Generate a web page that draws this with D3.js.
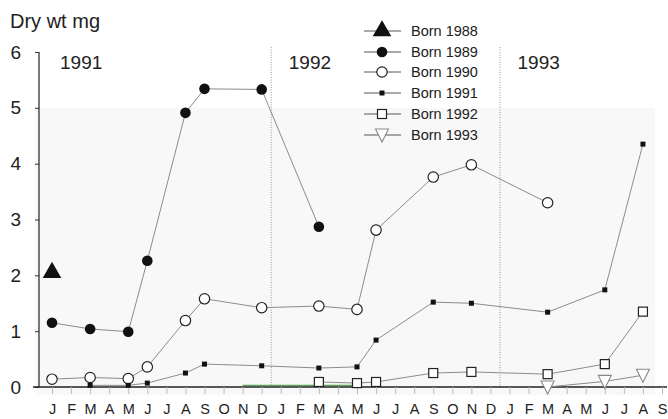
<!DOCTYPE html>
<html>
<head>
<meta charset="utf-8">
<script src="https://cdn.jsdelivr.net/npm/d3@7"></script>
<style>
  html, body { margin: 0; padding: 0; background: #fff; }
  svg { display: block; font-family: "Liberation Sans", Arial, Helvetica, sans-serif; }
</style>
</head>
<body>
<svg id="chart" width="668" height="419"></svg>
<script>
// Month keys along the x axis, Jan 1991 .. Sep 1993
const monthKeys = [];
for (let y = 1991; y <= 1993; y++) {
  for (let m = 1; m <= 12; m++) {
    if (y === 1993 && m > 9) break;
    monthKeys.push(y + "-" + String(m).padStart(2, "0"));
  }
}
const monthLetters = ["J","F","M","A","M","J","J","A","S","O","N","D"];
const yTicks = [0, 1, 2, 3, 4, 5, 6];
const yearLabels = [
  { key: "1991-01", text: "1991" },
  { key: "1992-01", text: "1992" },
  { key: "1993-01", text: "1993" }
];

// Mean dry weight (mg) by cohort and sampling month
const born1988 = [{ m: "1991-01", v: 2.05 }];
const born1989 = [
  { m: "1991-01", v: 1.15 }, { m: "1991-03", v: 1.04 }, { m: "1991-05", v: 0.99 },
  { m: "1991-06", v: 2.26 }, { m: "1991-08", v: 4.91 }, { m: "1991-09", v: 5.34 },
  { m: "1991-12", v: 5.33 }, { m: "1992-03", v: 2.87 }
];
const born1990 = [
  { m: "1991-01", v: 0.14 }, { m: "1991-03", v: 0.17 }, { m: "1991-05", v: 0.15 },
  { m: "1991-06", v: 0.36 }, { m: "1991-08", v: 1.19 }, { m: "1991-09", v: 1.58 },
  { m: "1991-12", v: 1.42 }, { m: "1992-03", v: 1.45 }, { m: "1992-05", v: 1.39 },
  { m: "1992-06", v: 2.81 }, { m: "1992-09", v: 3.76 }, { m: "1992-11", v: 3.98 },
  { m: "1993-03", v: 3.30 }
];
const born1991 = [
  { m: "1991-03", v: 0.03 }, { m: "1991-05", v: 0.03 }, { m: "1991-06", v: 0.07 },
  { m: "1991-08", v: 0.25 }, { m: "1991-09", v: 0.41 }, { m: "1991-12", v: 0.38 },
  { m: "1992-03", v: 0.34 }, { m: "1992-05", v: 0.36 }, { m: "1992-06", v: 0.84 },
  { m: "1992-09", v: 1.52 }, { m: "1992-11", v: 1.50 }, { m: "1993-03", v: 1.34 },
  { m: "1993-06", v: 1.74 }, { m: "1993-08", v: 4.35 }
];
const born1992 = [
  { m: "1992-03", v: 0.09 }, { m: "1992-05", v: 0.07 }, { m: "1992-06", v: 0.09 },
  { m: "1992-09", v: 0.25 }, { m: "1992-11", v: 0.27 }, { m: "1993-03", v: 0.23 },
  { m: "1993-06", v: 0.41 }, { m: "1993-08", v: 1.35 }
];
const born1993 = [
  { m: "1993-03", v: 0.00 }, { m: "1993-06", v: 0.10 }, { m: "1993-08", v: 0.21 }
];
// Pre-sampling trace of the 1992 cohort along the baseline
const born1992Trace = [{ m: "1991-11", v: 0.03 }, { m: "1992-05", v: 0.03 }];

const series = [
  { name: "Born 1988", data: born1988, marker: "triUp" },
  { name: "Born 1989", data: born1989, marker: "dot" },
  { name: "Born 1990", data: born1990, marker: "ring" },
  { name: "Born 1991", data: born1991, marker: "smallSquare" },
  { name: "Born 1992", data: born1992, marker: "openSquare" },
  { name: "Born 1993", data: born1993, marker: "triDown" }
];

const svg = d3.select("#chart");

const x = d3.scalePoint().domain(monthKeys).range([52, 662]);
const y = d3.scaleLinear().domain([0, 6]).range([387, 52]);
const step = x.step();

// faint panel tone
svg.append("rect")
  .attr("x", 35).attr("y", y(5))
  .attr("width", 620).attr("height", y(0) - y(5) + 8)
  .attr("fill", "#f8f8f8");

// year separators (dotted)
["1991-12", "1992-12"].forEach(k => {
  svg.append("line")
    .attr("x1", x(k) + step / 2).attr("x2", x(k) + step / 2)
    .attr("y1", 47).attr("y2", y(0))
    .attr("stroke", "#9a9a9a").attr("stroke-width", 1)
    .attr("stroke-dasharray", "1,1.5");
});

// y axis
const yAxis = d3.axisLeft(y).tickValues(yTicks).tickSize(4).tickPadding(14)
  .tickFormat(d3.format("d"));
const gy = svg.append("g").attr("transform", "translate(39,0)").call(yAxis);
gy.select(".domain").attr("stroke", "#222").attr("stroke-width", 1.2)
  .attr("d", `M0,${y(6)}V${y(0)}`);
gy.selectAll(".tick line").attr("stroke", "#333");
gy.selectAll(".tick text").attr("font-size", 19).attr("fill", "#222")
  .attr("font-family", "Liberation Sans, Arial, sans-serif");

// x axis
const xAxis = d3.axisBottom(x).tickSize(7).tickPadding(10)
  .tickFormat(k => monthLetters[+k.slice(5) - 1]);
const gx = svg.append("g").attr("transform", `translate(0,${y(0)})`).call(xAxis);
gx.select(".domain").attr("stroke", "#222").attr("stroke-width", 1.3)
  .attr("d", "M33,0H667");
gx.selectAll(".tick line").attr("stroke", "#bbb");
gx.selectAll(".tick text").attr("font-size", 14.5).attr("fill", "#222")
  .attr("font-family", "Liberation Sans, Arial, sans-serif");

// axis title and year labels
svg.append("text").attr("x", 10).attr("y", 28)
  .attr("font-size", 20).attr("fill", "#222").text("Dry wt mg");
yearLabels.forEach(d => {
  svg.append("text").attr("x", x(d.key) + 8).attr("y", 69)
    .attr("font-size", 19).attr("fill", "#222").text(d.text);
});

// green baseline trace
const line = d3.line().x(d => x(d.m)).y(d => y(d.v));
svg.append("path").datum(born1992Trace).attr("d", line)
  .attr("fill", "none").attr("stroke", "#5aa55a").attr("stroke-width", 1.3);

// marker drawing
function drawMarker(g, type, cx, cy) {
  switch (type) {
    case "triUp":
      g.append("path").attr("d", d3.symbol(d3.symbolTriangle, 150)())
        .attr("transform", `translate(${cx},${cy})`).attr("fill", "#111");
      break;
    case "dot":
      g.append("circle").attr("cx", cx).attr("cy", cy).attr("r", 5.3).attr("fill", "#111");
      break;
    case "ring":
      g.append("circle").attr("cx", cx).attr("cy", cy).attr("r", 5.2)
        .attr("fill", "#fff").attr("stroke", "#222").attr("stroke-width", 1.2);
      break;
    case "smallSquare":
      g.append("rect").attr("x", cx - 2.5).attr("y", cy - 2.5).attr("width", 5).attr("height", 5)
        .attr("fill", "#111");
      break;
    case "openSquare":
      g.append("rect").attr("x", cx - 4.5).attr("y", cy - 4.5).attr("width", 9).attr("height", 9)
        .attr("fill", "#fff").attr("stroke", "#222").attr("stroke-width", 1.2);
      break;
    case "triDown":
      g.append("path").attr("d", "M-6.5,-6 L6.5,-6 L0,7 Z")
        .attr("transform", `translate(${cx},${cy})`)
        .attr("fill", "#fff").attr("stroke", "#888").attr("stroke-width", 1.1);
      break;
  }
}

// series lines then markers
series.forEach(s => {
  if (s.data.length > 1) {
    svg.append("path").datum(s.data).attr("d", line)
      .attr("fill", "none").attr("stroke", "#8c8c8c").attr("stroke-width", 1);
  }
});
series.forEach(s => {
  const g = svg.append("g");
  s.data.forEach(d => drawMarker(g, s.marker, x(d.m), y(d.v)));
});

// legend
const legendY = [31, 52, 72, 93, 114, 135];
series.forEach((s, i) => {
  const g = svg.append("g");
  g.append("line").attr("x1", 364).attr("x2", 401)
    .attr("y1", legendY[i]).attr("y2", legendY[i])
    .attr("stroke", "#555").attr("stroke-width", 1);
  drawMarker(g, s.marker, 382, legendY[i]);
  g.append("text").attr("x", 411).attr("y", legendY[i] + 5)
    .attr("font-size", 14.5).attr("fill", "#222").text(s.name);
});
</script>
</body>
</html>
